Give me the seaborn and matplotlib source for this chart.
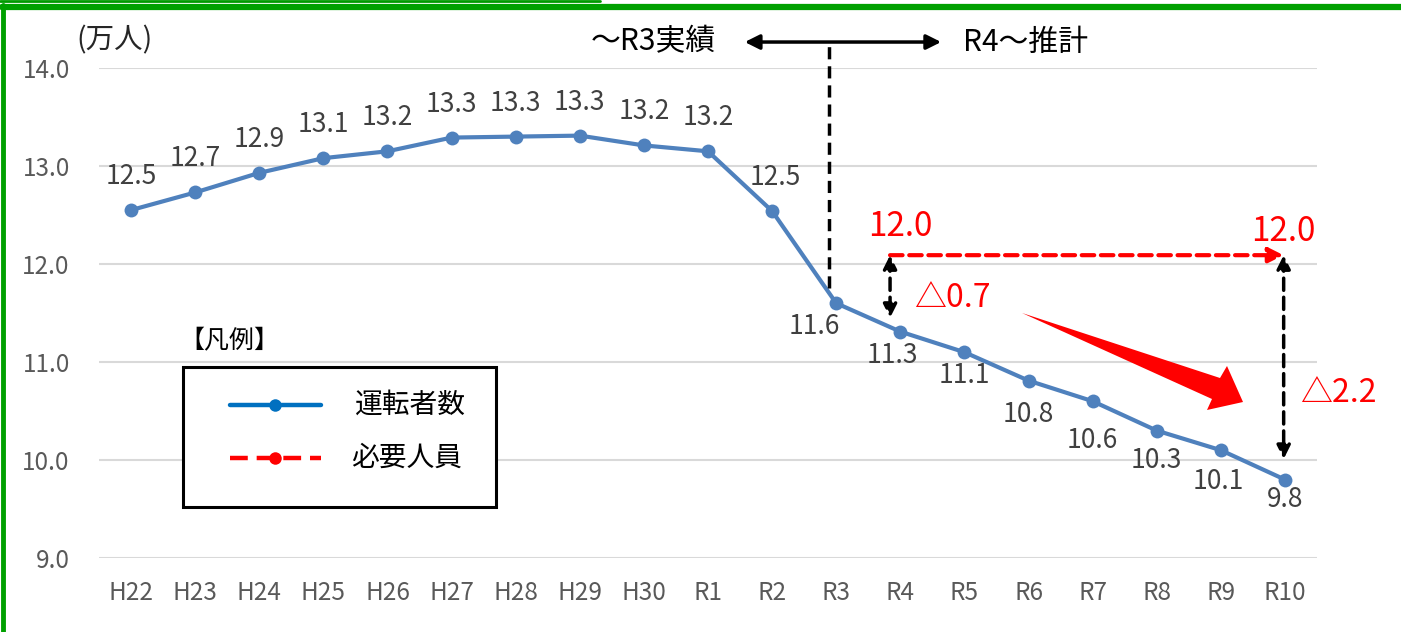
import matplotlib
matplotlib.use('Agg')
import matplotlib.pyplot as plt
import seaborn as sns
import pandas as pd
from matplotlib.lines import Line2D
from matplotlib.patches import Rectangle, Polygon

# データ
years = ['H22', 'H23', 'H24', 'H25', 'H26', 'H27', 'H28', 'H29', 'H30', 'R1',
         'R2', 'R3', 'R4', 'R5', 'R6', 'R7', 'R8', 'R9', 'R10']
drivers = [12.55, 12.73, 12.93, 13.08, 13.15, 13.29, 13.30, 13.31, 13.21, 13.15,
           12.54, 11.60, 11.31, 11.10, 10.81, 10.60, 10.30, 10.10, 9.80]
driver_labels = ['12.5', '12.7', '12.9', '13.1', '13.2', '13.3', '13.3', '13.3', '13.2', '13.2',
                 '12.5', '11.6', '11.3', '11.1', '10.8', '10.6', '10.3', '10.1', '9.8']
required = 12.09
required_label = '12.0'
gap_r4 = '△0.7'
gap_r10 = '△2.2'
yticks = [9.0, 10.0, 11.0, 12.0, 13.0, 14.0]

df = pd.DataFrame({'year': years, 'drivers': drivers})

sns.set_theme(style='white')
plt.rcParams['font.family'] = ['Noto Sans CJK JP', 'DejaVu Sans']

W, H = 1401, 632
fig = plt.figure(figsize=(W / 100, H / 100), dpi=100)
ax = fig.add_axes([99 / W, 1 - 558 / H, 1218 / W, 490 / H])


def px(x, y):
    return (x / W, 1 - y / H)


sns.lineplot(data=df, x='year', y='drivers', ax=ax, color='#4F81BD', lw=3,
             marker='o', markersize=10, markeredgewidth=0, sort=False)

ax.set_xlim(-0.5, len(years) - 0.5)
ax.set_ylim(9.0, 14.0)
ax.set_yticks(yticks)
ax.set_yticklabels([f'{v:.1f}' for v in yticks])
ax.set_xlabel('')
ax.set_ylabel('')
ax.grid(axis='y', color='#D9D9D9', lw=1.5)
ax.grid(axis='x', visible=False)
for s in ax.spines.values():
    s.set_visible(False)
ax.tick_params(axis='y', length=0, pad=21, labelsize=17.5, labelcolor='#595959')
ax.tick_params(axis='x', length=0, pad=16, labelsize=17.5, labelcolor='#595959')

# データラベル
for i, (v, lab) in enumerate(zip(drivers, driver_labels)):
    if i <= 10:
        off = (3 if i == 10 else 0, 20)
        va = 'bottom'
    else:
        off = {11: (-22, -10), 12: (-8, -10), 13: (0, -10), 14: (0, -20),
               15: (0, -26), 16: (0, -16), 17: (-3, -18), 18: (0, -6)}[i]
        va = 'top'
    ax.annotate(lab, (i, v), xytext=off, textcoords='offset pixels',
                ha='center', va=va, fontsize=19, color='#404040')

# 実績/推計の区切り
ax.plot([10.88, 10.88], [11.76, 14.24], color='black', lw=2.5, ls=(0, (3.5, 2)), clip_on=False)
ax.annotate('', xy=(9.53, 14.265), xytext=(12.68, 14.265),
            arrowprops=dict(arrowstyle='<|-|>', color='black', lw=2.5, mutation_scale=22),
            annotation_clip=False)
ax.text(9.12, 14.265, '～R3実績', ha='right', va='center', fontsize=21.5, color='black', clip_on=False)
ax.text(12.98, 14.265, 'R4～推計', ha='left', va='center', fontsize=21.5, color='black', clip_on=False)
ax.text(-0.26, 14.28, '(万人)', ha='center', va='center', fontsize=20.5, color='#262626', clip_on=False)

# 必要人員
ax.annotate('', xy=(17.98, required), xytext=(11.84, required),
            arrowprops=dict(arrowstyle='-|>', color='red', lw=3, ls=(0, (3, 1.6)),
                            mutation_scale=22, shrinkA=0, shrinkB=0))
for x0, y1 in [(11.84, 11.45), (17.98, 10.01)]:
    ax.annotate('', xy=(x0, y1), xytext=(x0, required),
                arrowprops=dict(arrowstyle='<|-|>', color='black', lw=2.5, ls=(0, (3.5, 2)),
                                mutation_scale=20, shrinkA=0, shrinkB=0))
ax.text(12.0, 12.38, required_label, ha='center', va='center', fontsize=24, color='red')
ax.text(17.97, 12.33, required_label, ha='center', va='center', fontsize=24, color='red')
ax.text(12.81, 11.65, gap_r4, ha='center', va='center', fontsize=23, color='red')
ax.text(18.83, 10.68, gap_r10, ha='center', va='center', fontsize=23, color='red', clip_on=False)

# 減少の大きな矢印
arrow_pts = [px(1022, 313), px(1220, 378), px(1227, 366), px(1243, 402),
             px(1207, 410), px(1212, 399)]
fig.add_artist(Polygon(arrow_pts, closed=True, facecolor='red', edgecolor='none',
                       transform=fig.transFigure))

# 凡例
fig.text(*px(229, 341), '【凡例】', ha='center', va='center', fontsize=18, color='black')
x0, y0 = px(183, 507)
x1, y1 = px(496, 367)
fig.add_artist(Rectangle((x0, y0), x1 - x0, y1 - y0, transform=fig.transFigure,
                         facecolor='white', edgecolor='black', lw=2.2))
a, b = px(230, 405), px(321, 405)
fig.add_artist(Line2D([a[0], b[0]], [a[1], b[1]], color='#0070C0', lw=3.2,
                      transform=fig.transFigure))
fig.add_artist(Line2D([px(275, 405)[0]], [px(275, 405)[1]], color='#0070C0', marker='o',
                      markersize=9, markeredgewidth=0, transform=fig.transFigure))
a, b = px(230, 458), px(321, 458)
fig.add_artist(Line2D([a[0], b[0]], [a[1], b[1]], color='red', lw=3.2, ls=(0, (4, 2)),
                      transform=fig.transFigure))
fig.add_artist(Line2D([px(275, 458)[0]], [px(275, 458)[1]], color='red', marker='o',
                      markersize=9, markeredgewidth=0, transform=fig.transFigure))
fig.text(*px(410, 405), '運転者数', ha='center', va='center', fontsize=20, color='black')
fig.text(*px(407, 458), '必要人員', ha='center', va='center', fontsize=20, color='black')

# 緑の枠
fig.add_artist(Line2D([0, 600 / W], [1 - 1 / H, 1 - 1 / H], color='#009A00', lw=2,
                      transform=fig.transFigure))
fig.add_artist(Line2D([2 / W, 1], [1 - 7 / H, 1 - 7 / H], color='#00A000', lw=4.5,
                      transform=fig.transFigure))
fig.add_artist(Line2D([2.5 / W, 2.5 / W], [0, 1 - 5 / H], color='#00A000', lw=3.5,
                      transform=fig.transFigure))

fig.savefig('out.png', dpi=100)
